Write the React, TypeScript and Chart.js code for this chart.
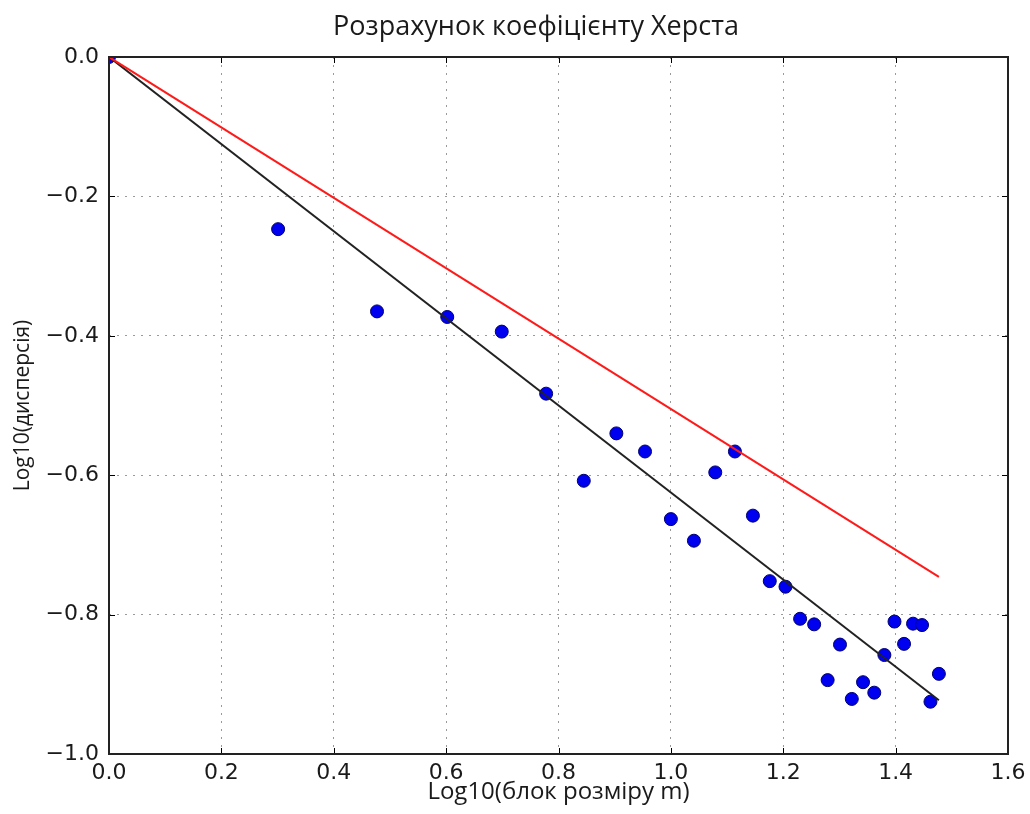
import React, { useEffect, useRef } from "react";
import { Chart, registerables } from "chart.js";

Chart.register(...registerables);

const TITLE = "Розрахунок коефіцієнту Херста";
const X_LABEL = "Log10(блок розміру m)";
const Y_LABEL = "Log10(дисперсія)";

// log10 of block size m (m = 1..30)
const logM = [
  0, 0.301, 0.477, 0.602, 0.699, 0.778, 0.845, 0.903, 0.954, 1.0, 1.041, 1.079,
  1.114, 1.146, 1.176, 1.204, 1.23, 1.255, 1.279, 1.301, 1.322, 1.342, 1.362,
  1.38, 1.398, 1.415, 1.431, 1.447, 1.462, 1.477,
];
// log10 of variance
const logVar = [
  0, -0.247, -0.365, -0.373, -0.394, -0.483, -0.608, -0.54, -0.566, -0.663,
  -0.694, -0.596, -0.566, -0.658, -0.752, -0.76, -0.806, -0.814, -0.894,
  -0.843, -0.921, -0.897, -0.912, -0.858, -0.81, -0.842, -0.813, -0.815,
  -0.925, -0.885,
];

// fitted line (black) and reference line (red)
const lineX = [0, 1.477];
const fitY = [0, -0.923];
const refY = [0, -0.746];

const X_MIN = 0;
const X_MAX = 1.6;
const X_STEP = 0.2;
const Y_MIN = -1.0;
const Y_MAX = 0.0;
const Y_STEP = 0.2;

const fmt = (v: number) => {
  const s = (Math.abs(v) < 1e-9 ? 0 : v).toFixed(1);
  return s.replace("-", "\u2212");
};

const TEXT = "#1a1a1a";

const framePlugin = {
  id: "frame",
  afterDatasetsDraw(chart: any) {
    const { ctx, chartArea: a, scales } = chart;
    ctx.save();
    // inward ticks on all four sides
    ctx.strokeStyle = "#000";
    ctx.lineWidth = 1;
    const L = 6;
    scales.x.ticks.forEach((t: any) => {
      const px = Math.round(scales.x.getPixelForValue(t.value)) + 0.5;
      ctx.beginPath();
      ctx.moveTo(px, a.bottom);
      ctx.lineTo(px, a.bottom - L);
      ctx.moveTo(px, a.top);
      ctx.lineTo(px, a.top + L);
      ctx.stroke();
    });
    scales.y.ticks.forEach((t: any) => {
      const py = Math.round(scales.y.getPixelForValue(t.value)) + 0.5;
      ctx.beginPath();
      ctx.moveTo(a.left, py);
      ctx.lineTo(a.left + L, py);
      ctx.moveTo(a.right, py);
      ctx.lineTo(a.right - L, py);
      ctx.stroke();
    });
    ctx.strokeStyle = "#222";
    ctx.lineWidth = 2;
    ctx.strokeRect(a.left, a.top, a.right - a.left, a.bottom - a.top);
    // title
    ctx.fillStyle = TEXT;
    ctx.font = "27px 'Open Sans'";
    ctx.textAlign = "center";
    ctx.textBaseline = "middle";
    ctx.fillText(TITLE, 536, 27);
    ctx.restore();
  },
};

export default function App() {
  const ref = useRef<HTMLCanvasElement | null>(null);

  useEffect(() => {
    if (!ref.current) return;
    const points = logM.map((x, i) => ({ x, y: logVar[i] }));
    const fit = lineX.map((x, i) => ({ x, y: fitY[i] }));
    const refLine = lineX.map((x, i) => ({ x, y: refY[i] }));

    const chart = new Chart(ref.current, {
      type: "scatter",
      data: {
        datasets: [
          {
            label: "ref",
            data: refLine,
            showLine: true,
            borderColor: "#ff1a1a",
            borderWidth: 2,
            pointRadius: 0,
            order: 0,
            clip: 0,
          } as any,
          {
            label: "fit",
            data: fit,
            showLine: true,
            borderColor: "#222222",
            borderWidth: 2,
            pointRadius: 0,
            order: 1,
            clip: 0,
          } as any,
          {
            label: "data",
            data: points,
            backgroundColor: "#0000f0",
            borderColor: "#00006e",
            borderWidth: 1,
            pointRadius: 6.5,
            order: 2,
            clip: 0,
          } as any,
        ],
      },
      options: {
        animation: false,
        responsive: false,
        maintainAspectRatio: false,
        layout: { padding: { top: 57, right: 22, left: 0, bottom: 0 } },
        plugins: {
          legend: { display: false },
          tooltip: { enabled: false },
          title: { display: false },
        },
        scales: {
          x: {
            type: "linear",
            min: X_MIN,
            max: X_MAX,
            afterFit: (s: any) => {
              s.height = 60;
              s.paddingLeft = 0;
              s.paddingRight = 0;
            },
            ticks: {
              stepSize: X_STEP,
              color: TEXT,
              font: { family: "'DejaVu Sans'", size: 22 },
              padding: 6,
              maxRotation: 0,
              callback: (v: any) => fmt(Number(v)),
            },
            grid: {
              color: "#9a9a9a",
              lineWidth: 1,
              drawTicks: false,
            },
            border: { display: false, dash: [2, 6] },
            title: {
              display: true,
              text: X_LABEL,
              color: TEXT,
              font: { family: "'Open Sans'", size: 24 },
              padding: { top: 0, bottom: 7 },
            },
          },
          y: {
            type: "linear",
            min: Y_MIN,
            max: Y_MAX,
            afterFit: (s: any) => {
              s.width = 109;
              s.paddingTop = 0;
              s.paddingBottom = 0;
            },
            ticks: {
              stepSize: Y_STEP,
              color: TEXT,
              font: { family: "'DejaVu Sans'", size: 22 },
              padding: 10,
              callback: (v: any) => fmt(Number(v)),
            },
            grid: {
              color: "#9a9a9a",
              lineWidth: 1,
              drawTicks: false,
            },
            border: { display: false, dash: [2, 6] },
            title: {
              display: true,
              text: Y_LABEL,
              color: TEXT,
              font: { family: "'Open Sans'", size: 21 },
              padding: { top: 10, bottom: 0 },
            },
          },
        },
      },
      plugins: [framePlugin],
    });
    return () => chart.destroy();
  }, []);

  return (
    <div style={{ position: "absolute", left: 0, top: 0, width: 1030, height: 814, background: "#fff" }}>
      <canvas ref={ref} width={1030} height={814} style={{ display: "block" }} />
    </div>
  );
}
